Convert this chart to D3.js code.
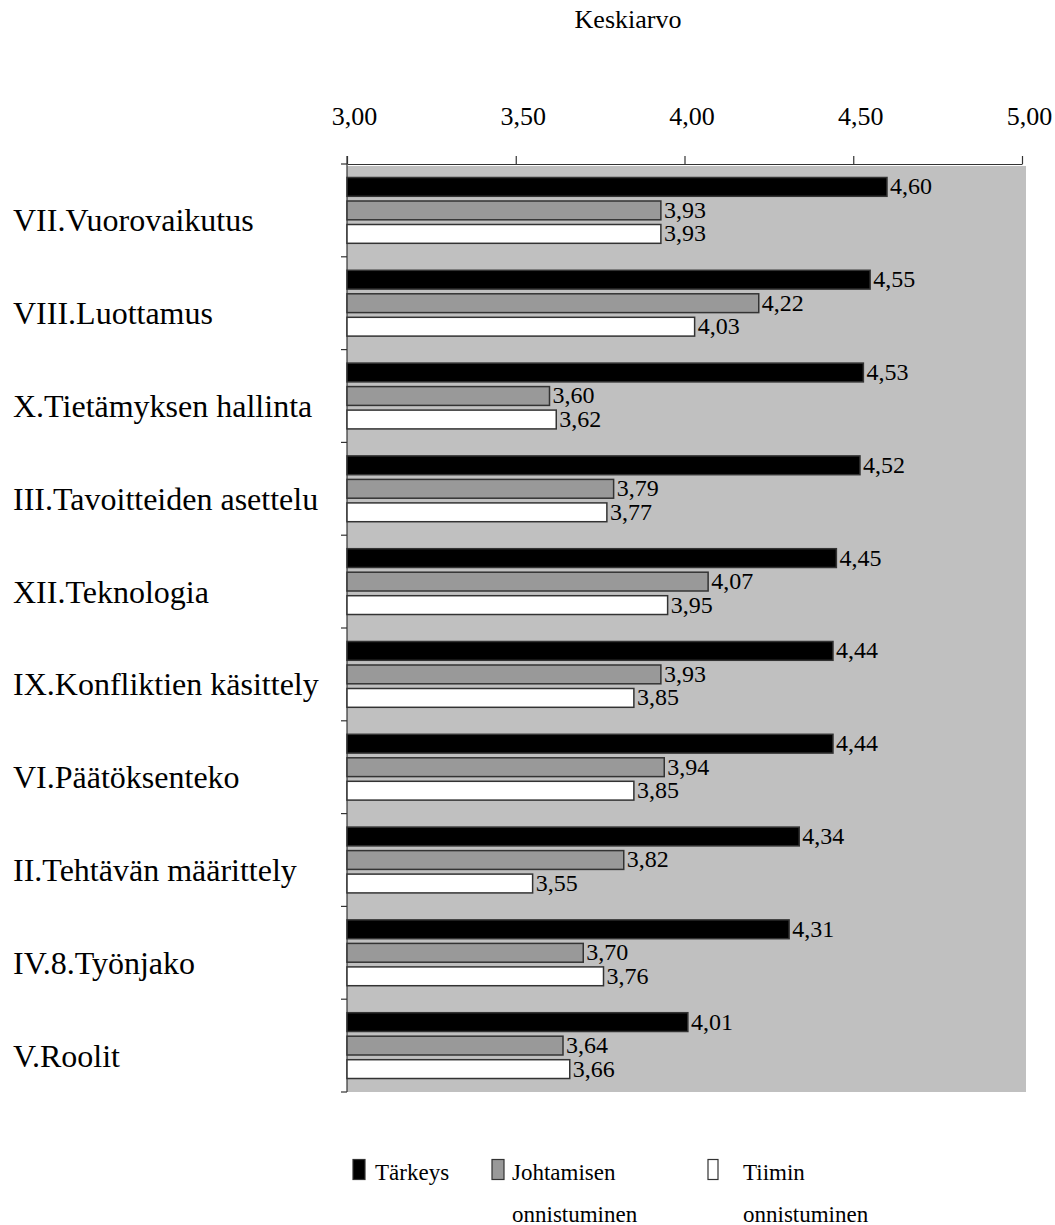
<!DOCTYPE html>
<html>
<head>
<meta charset="utf-8">
<script src="https://cdn.jsdelivr.net/npm/d3@7"></script>
<style>
  html, body { margin: 0; padding: 0; background: #fff; }
  svg { display: block; font-family: "Liberation Serif", "Times New Roman", serif; }
</style>
</head>
<body>
<svg id="chart" width="1055" height="1225"></svg>
<script>
// Osa-alueet ja keskiarvot
const categories = [
  "VII.Vuorovaikutus",
  "VIII.Luottamus",
  "X.Tietämyksen hallinta",
  "III.Tavoitteiden asettelu",
  "XII.Teknologia",
  "IX.Konfliktien käsittely",
  "VI.Päätöksenteko",
  "II.Tehtävän määrittely",
  "IV.8.Työnjako",
  "V.Roolit"
];
const tarkeys      = [4.60, 4.55, 4.53, 4.52, 4.45, 4.44, 4.44, 4.34, 4.31, 4.01];
const johtaminen   = [3.93, 4.22, 3.60, 3.79, 4.07, 3.93, 3.94, 3.82, 3.70, 3.64];
const tiimi        = [3.93, 4.03, 3.62, 3.77, 3.95, 3.85, 3.85, 3.55, 3.76, 3.66];
const seriesKeys   = ["tarkeys", "johtaminen", "tiimi"];
const seriesNames  = [["Tärkeys"], ["Johtamisen", "onnistuminen"], ["Tiimin", "onnistuminen"]];
const seriesFill   = ["#000000", "#999999", "#ffffff"];
const tickValues   = [3.00, 3.50, 4.00, 4.50, 5.00];
const axisTitle    = "Keskiarvo";

const values = { tarkeys, johtaminen, tiimi };
const rows = categories.map((c, i) => ({
  category: c,
  bars: seriesKeys.map((k, j) => ({ key: k, idx: j, value: values[k][i] }))
}));

const svg = d3.select("#chart");
const fmt = v => d3.format(".2f")(v).replace(".", ",");

const plotLeft = 347, plotRight = 1022, plotTop = 164, plotBottom = 1092;

const x = d3.scaleLinear().domain([3, 5]).range([plotLeft, plotRight]);
const y = d3.scaleBand().domain(categories).range([plotTop, plotBottom]);
const inner = d3.scaleBand().domain(seriesKeys)
  .range([0, y.bandwidth()]).paddingInner(0.2).paddingOuter(0.574);

// plot area background
svg.append("rect")
  .attr("x", plotLeft).attr("y", plotTop + 2)
  .attr("width", plotRight - plotLeft + 4).attr("height", plotBottom - plotTop - 2)
  .attr("fill", "#c0c0c0");

// axis title
svg.append("text")
  .attr("x", 628).attr("y", 28)
  .attr("text-anchor", "middle")
  .attr("font-size", 26)
  .text(axisTitle);

// top value axis
const xAxis = d3.axisTop(x)
  .tickValues(tickValues)
  .tickSize(8)
  .tickSizeOuter(0)
  .tickPadding(31.5)
  .tickFormat(fmt);

const gx = svg.append("g")
  .attr("transform", `translate(0,${plotTop})`)
  .call(xAxis);
gx.attr("font-family", null);
gx.select(".domain").attr("stroke", "#333").attr("stroke-width", 1.2);
gx.selectAll(".tick line").attr("stroke", "#333").attr("stroke-width", 1.2);
gx.selectAll(".tick text")
  .attr("font-size", 26)
  .attr("fill", "#000")
  .attr("dx", 7);

// category axis line with boundary ticks
svg.append("line")
  .attr("x1", plotLeft).attr("x2", plotLeft)
  .attr("y1", plotTop - 8).attr("y2", plotBottom)
  .attr("stroke", "#333").attr("stroke-width", 1.2);
const boundaries = categories.map(c => y(c)).concat([plotBottom]);
svg.selectAll("line.cat-tick")
  .data(boundaries)
  .join("line")
  .attr("class", "cat-tick")
  .attr("x1", plotLeft - 6).attr("x2", plotLeft)
  .attr("y1", d => d).attr("y2", d => d)
  .attr("stroke", "#333").attr("stroke-width", 1.2);

// category labels
svg.selectAll("text.cat")
  .data(categories)
  .join("text")
  .attr("class", "cat")
  .attr("x", 13)
  .attr("y", d => y(d) + y.bandwidth() / 2 + 21)
  .attr("font-size", 32)
  .attr("fill", "#000")
  .text(d => d);

// bars
const groups = svg.selectAll("g.row")
  .data(rows)
  .join("g")
  .attr("class", "row")
  .attr("transform", d => `translate(0,${y(d.category)})`);

groups.selectAll("rect")
  .data(d => d.bars)
  .join("rect")
  .attr("x", x(3))
  .attr("y", d => inner(d.key))
  .attr("width", d => x(d.value) - x(3))
  .attr("height", inner.bandwidth())
  .attr("fill", d => seriesFill[d.idx])
  .attr("stroke", "#333")
  .attr("stroke-width", 1.5);

// value labels next to each bar
groups.selectAll("text")
  .data(d => d.bars)
  .join("text")
  .attr("x", d => x(d.value) + 3)
  .attr("y", d => inner(d.key) + inner.bandwidth() / 2 + 7.5)
  .attr("font-size", 24)
  .attr("fill", "#000")
  .text(d => fmt(d.value));

// legend
const legendX = [353, 492, 708];
const legendTextX = [375, 512, 743];
const legend = svg.append("g");
seriesKeys.forEach((k, i) => {
  legend.append("rect")
    .attr("x", legendX[i]).attr("y", 1159.5)
    .attr("width", i === 2 ? 10 : 12).attr("height", 20)
    .attr("fill", seriesFill[i])
    .attr("stroke", "#333").attr("stroke-width", 1.2);
  seriesNames[i].forEach((line, li) => {
    legend.append("text")
      .attr("x", legendTextX[i])
      .attr("y", 1180 + li * 41.5)
      .attr("font-size", 23)
      .attr("fill", "#000")
      .text(line);
  });
});
</script>
</body>
</html>
